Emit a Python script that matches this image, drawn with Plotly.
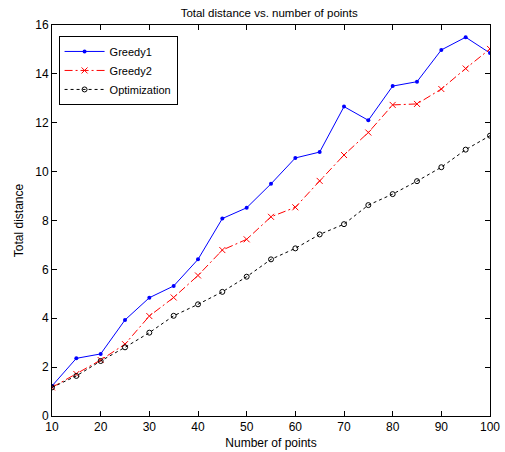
import plotly.graph_objects as go

x_points = [10, 15, 20, 25, 30, 35, 40, 45, 50, 55, 60, 65, 70, 75, 80, 85, 90, 95, 100]
greedy1 = [1.23, 2.36, 2.54, 3.93, 4.84, 5.32, 6.41, 8.08, 8.52, 9.5, 10.56, 10.8, 12.66, 12.1, 13.5, 13.68, 14.98, 15.5, 14.85]
greedy2 = [1.17, 1.72, 2.29, 2.94, 4.09, 4.85, 5.75, 6.79, 7.23, 8.15, 8.54, 9.62, 10.68, 11.6, 12.73, 12.77, 13.38, 14.22, 15.02]
optimization = [1.17, 1.64, 2.25, 2.81, 3.41, 4.1, 4.57, 5.08, 5.7, 6.41, 6.86, 7.43, 7.85, 8.63, 9.08, 9.61, 10.18, 10.9, 11.47]

x_ticks = [10, 20, 30, 40, 50, 60, 70, 80, 90, 100]
y_ticks = [0, 2, 4, 6, 8, 10, 12, 14, 16]

font = "Liberation Sans, Arial, sans-serif"

fig = go.Figure()
fig.add_trace(go.Scatter(x=x_points, y=greedy1, name="Greedy1", mode="lines+markers",
                         line=dict(color="#0000ff", width=1),
                         marker=dict(symbol="circle", size=4, color="#0000ff")))
fig.add_trace(go.Scatter(x=x_points, y=greedy2, name="Greedy2", mode="lines+markers",
                         line=dict(color="#ff0000", width=1, dash="8px,3px,2px,3px"),
                         marker=dict(symbol="x-thin", size=6, color="#ff0000",
                                     line=dict(color="#ff0000", width=1))))
fig.add_trace(go.Scatter(x=x_points, y=optimization, name="Optimization", mode="lines+markers",
                         line=dict(color="#000000", width=1, dash="3px,3px"),
                         marker=dict(symbol="circle-open", size=5, color="#000000",
                                     line=dict(color="#000000", width=1))))

axis_common = dict(showgrid=False, zeroline=False, showline=True, linecolor="#000000",
                   linewidth=1, mirror="ticks", ticks="inside", ticklen=5,
                   tickcolor="#000000", ticklabeloverflow="allow", automargin=False,
                   tickfont=dict(family=font, size=12, color="#000000"))

fig.update_layout(
    width=505, height=452,
    margin=dict(l=52, r=15, t=25, b=36, autoexpand=False),
    paper_bgcolor="white", plot_bgcolor="white",
    title=dict(text="Total distance vs. number of points", x=0.533, xanchor="center",
               y=0.971, yanchor="middle", automargin=False,
               font=dict(family=font, size=11.5, color="#000000")),
    xaxis=dict(range=[10, 100], tickvals=x_ticks,
               title=dict(text="Number of points", font=dict(family=font, size=12, color="#000000"), standoff=5),
               **axis_common),
    yaxis=dict(range=[0, 16], tickvals=y_ticks,
               title=dict(text="Total distance", font=dict(family=font, size=12, color="#000000"), standoff=9),
               **axis_common),
    legend=dict(x=0.015, y=0.972, xanchor="left", yanchor="top",
                bgcolor="white", bordercolor="#000000", borderwidth=1,
                font=dict(family=font, size=11, color="#000000"),
                tracegroupgap=0, itemwidth=40),
    showlegend=True,
)

fig.write_html("out.html", config={"displayModeBar": False},
               post_script="document.body.style.margin='0';document.body.style.overflow='hidden';")
